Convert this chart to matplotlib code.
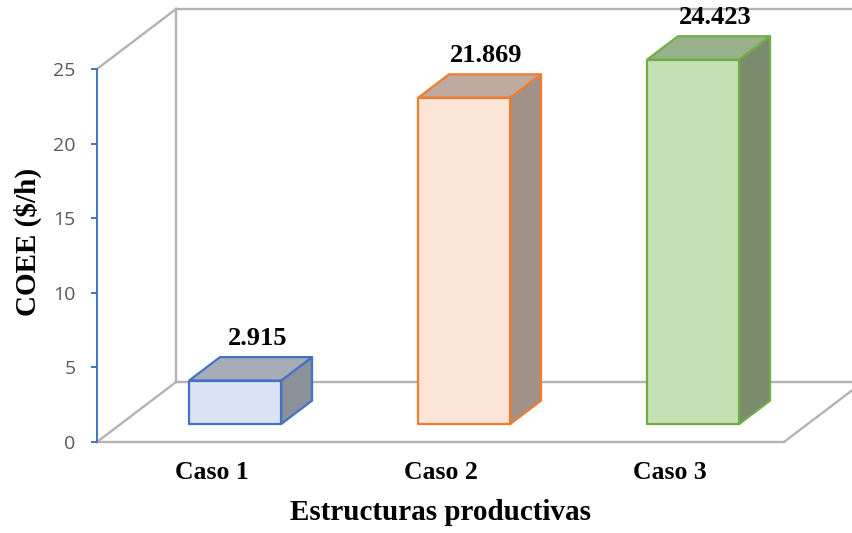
import matplotlib
matplotlib.use("Agg")
import matplotlib.pyplot as plt
from matplotlib.patches import Polygon

categories = ["Caso 1", "Caso 2", "Caso 3"]
coee = [2.915, 21.869, 24.423]
front_colors = ["#DAE3F3", "#FCE4D6", "#C5E0B4"]
top_colors = ["#A6ADB7", "#BFAAA0", "#98B08B"]
side_colors = ["#8A919B", "#A29189", "#7B8C6E"]
edge_colors = ["#4472C4", "#ED7D31", "#70AD47"]

# depth of the fake 3D box (data units) and bar placement in depth
DX = 0.345
DY = 4.02
D0, D1 = 0.30, 0.69
BAR_W = 0.402
WALL = "#B3B3B3"
serif = "Liberation Serif"


def proj(x, y, d):
    return (x + d * DX, y + d * DY)


fig = plt.figure(figsize=(8.52, 5.33), dpi=100)
ax = fig.add_axes([97 / 852, 91 / 533, 687 / 852, 373 / 533])
ax.set_xlim(0, 3)
ax.set_ylim(0, 25)

# walls and floor
n = len(categories)
ymax = 25
wall_lines = [
    [proj(0, 0, 0), proj(0, 0, 1)],
    [proj(0, ymax, 0), proj(0, ymax, 1)],
    [proj(0, 0, 1), proj(0, ymax, 1)],
    [proj(0, ymax, 1), proj(n + 1, ymax, 1)],
    [proj(0, 0, 1), proj(n + 1, 0, 1)],
    [proj(0, 0, 0), proj(n, 0, 0)],
    [proj(n, 0, 0), proj(n, 0, 1)],
]
for seg in wall_lines:
    xs, ys = zip(*seg)
    ax.plot(xs, ys, color=WALL, lw=1.7, clip_on=False, zorder=1)

# bars
for i, v in enumerate(coee):
    c = i + 0.5
    l, r = c - BAR_W / 2, c + BAR_W / 2
    front = [proj(l, 0, D0), proj(r, 0, D0), proj(r, v, D0), proj(l, v, D0)]
    top = [proj(l, v, D0), proj(r, v, D0), proj(r, v, D1), proj(l, v, D1)]
    side = [proj(r, 0, D0), proj(r, 0, D1), proj(r, v, D1), proj(r, v, D0)]
    for pts, fc in [(side, side_colors[i]), (top, top_colors[i]), (front, front_colors[i])]:
        ax.add_patch(Polygon(pts, closed=True, facecolor=fc, edgecolor=edge_colors[i],
                             lw=1.6, joinstyle="round", clip_on=False, zorder=3))
    lx, ly = proj(c, v, 0.58)
    ax.annotate(f"{v:.3f}", xy=(lx, proj(c, v, D1)[1]), xytext=(0, 13.5),
                textcoords="offset points", ha="center", va="center",
                fontsize=19, fontweight="bold", family=serif, annotation_clip=False,
                zorder=4)

for s in ["top", "right", "bottom"]:
    ax.spines[s].set_visible(False)
ax.spines["left"].set_color("#4472C4")
ax.spines["left"].set_linewidth(1.4)
ax.spines["left"].set_zorder(2)

ax.set_yticks(range(0, 26, 5))
ax.tick_params(axis="y", colors="#4472C4", length=4.5, width=1.4, pad=11,
               labelcolor="#595959", labelsize=14)
for t in ax.get_yticklabels():
    t.set_family("Open Sans")

ax.set_xticks([i + 0.5 for i in range(n)])
ax.set_xticklabels(categories, fontsize=18.5, fontweight="bold", family=serif)
ax.tick_params(axis="x", length=0, pad=14)

fig.text(28 / 852, 1 - 242 / 533, "COEE ($/h)", rotation=90, ha="center", va="center",
         fontsize=21, fontweight="bold", family=serif)
fig.text(441 / 852, 1 - 512 / 533, "Estructuras productivas", ha="center", va="center",
         fontsize=21, fontweight="bold", family=serif)

fig.savefig("out.png", dpi=100)
